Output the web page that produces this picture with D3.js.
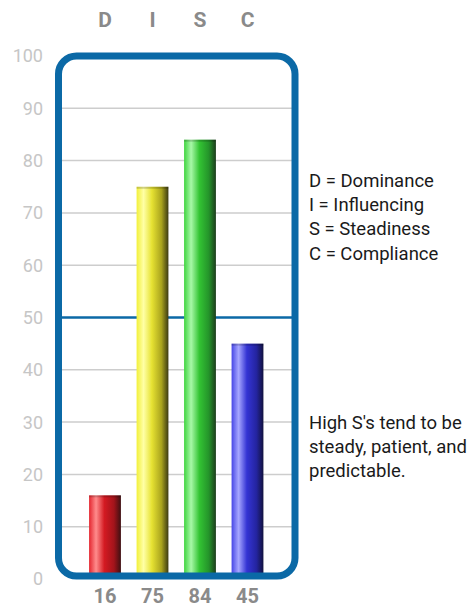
<!DOCTYPE html>
<html>
<head>
<meta charset="utf-8">
<script src="https://cdn.jsdelivr.net/npm/d3@7"></script>
<style>
  html, body { margin: 0; padding: 0; background: #ffffff; }
  svg { display: block; font-family: Roboto, "Liberation Sans", Arial, sans-serif; }
</style>
</head>
<body>
<svg id="chart" width="471" height="608"></svg>
<script>
// DISC profile scores
const categories = ["D", "I", "S", "C"];
const scores = [16, 75, 84, 45];
const yTicks = [0, 10, 20, 30, 40, 50, 60, 70, 80, 90, 100];
const legendLines = ["D = Dominance", "I = Influencing", "S = Steadiness", "C = Compliance"];
const noteLines = ["High S's tend to be", "steady, patient, and", "predictable."];

// Shaded cylinder colours for each bar (left edge, highlight, body, shade, right edge)
const barShades = [
  ["#e4262f", "#ff8c8c", "#d41a22", "#a3141b", "#3e1012"],
  ["#f2f03a", "#ffffa6", "#e6e232", "#aaa41e", "#3c3a12"],
  ["#3fd43f", "#a8f8a8", "#33c433", "#24932a", "#1d3d1d"],
  ["#4646e6", "#a6a6ff", "#3434d4", "#2424a0", "#12123e"]
];

const svg = d3.select("#chart");
const frameColor = "#0b69a6";

const y = d3.scaleLinear().domain([0, 100]).range([579, 56]);
const x = d3.scaleBand().domain(categories)
  .range([81.25, 271.25]).paddingInner(0.33).paddingOuter(0.165);

// Gradients
const defs = svg.append("defs");
categories.forEach((c, i) => {
  const g = defs.append("linearGradient")
    .attr("id", "grad-" + c).attr("x1", "0").attr("x2", "1").attr("y1", "0").attr("y2", "0");
  const offs = [0, 0.22, 0.48, 0.78, 1];
  barShades[i].forEach((col, k) => g.append("stop").attr("offset", offs[k]).attr("stop-color", col));
});

const frame = { x0: 58.5, x1: 295, y0: 56, y1: 576 };

// Grid lines
svg.append("g").selectAll("line")
  .data(yTicks.filter(t => t > 0 && t < 100 && t !== 50))
  .join("line")
  .attr("x1", frame.x0).attr("x2", frame.x1)
  .attr("y1", d => y(d)).attr("y2", d => y(d))
  .attr("stroke", "#cdcdcd").attr("stroke-width", 1.5);

// Midline at 50
svg.append("line")
  .attr("x1", frame.x0).attr("x2", frame.x1)
  .attr("y1", y(50)).attr("y2", y(50))
  .attr("stroke", frameColor).attr("stroke-width", 2.5);

// Bars
const bars = svg.append("g").selectAll("g")
  .data(categories.map((c, i) => ({ c, v: scores[i] })))
  .join("g");
bars.append("rect")
  .attr("x", d => x(d.c)).attr("width", x.bandwidth())
  .attr("y", d => y(d.v)).attr("height", d => y(0) - y(d.v))
  .attr("fill", d => "url(#grad-" + d.c + ")");
bars.append("rect")
  .attr("x", d => x(d.c)).attr("width", x.bandwidth())
  .attr("y", d => y(d.v)).attr("height", 2)
  .attr("fill", "#000").attr("opacity", 0.18);

// Rounded frame
svg.append("rect")
  .attr("x", frame.x0).attr("y", frame.y0)
  .attr("width", frame.x1 - frame.x0).attr("height", frame.y1 - frame.y0)
  .attr("rx", 18).attr("ry", 18)
  .attr("fill", "none").attr("stroke", frameColor).attr("stroke-width", 7);

// Y axis labels
svg.append("g").selectAll("text")
  .data(yTicks).join("text")
  .attr("x", 43).attr("y", d => y(d)).attr("dy", "0.36em")
  .attr("text-anchor", "end")
  .attr("font-size", 18).attr("fill", "#c6c6c6")
  .text(d => d);

// Category letters on top
svg.append("g").selectAll("text")
  .data(categories).join("text")
  .attr("x", d => x(d) + x.bandwidth() / 2).attr("y", 27)
  .attr("text-anchor", "middle")
  .attr("font-size", 21).attr("font-weight", "bold").attr("fill", "#8a8a8a")
  .text(d => d);

// Scores below bars
svg.append("g").selectAll("text")
  .data(categories.map((c, i) => ({ c, v: scores[i] }))).join("text")
  .attr("x", d => x(d.c) + x.bandwidth() / 2).attr("y", 603)
  .attr("text-anchor", "middle")
  .attr("font-size", 20).attr("font-weight", "bold").attr("fill", "#8a8a8a")
  .text(d => d.v);

// Legend
svg.append("g").selectAll("text")
  .data(legendLines).join("text")
  .attr("x", 309).attr("y", (d, i) => 187 + i * 24.2)
  .attr("font-size", 18.5).attr("fill", "#1a1a1a")
  .text(d => d);

// Note
svg.append("g").selectAll("text")
  .data(noteLines).join("text")
  .attr("x", 309).attr("y", (d, i) => 429 + i * 23.8)
  .attr("font-size", 18.5).attr("fill", "#1a1a1a")
  .text(d => d);
</script>
</body>
</html>
